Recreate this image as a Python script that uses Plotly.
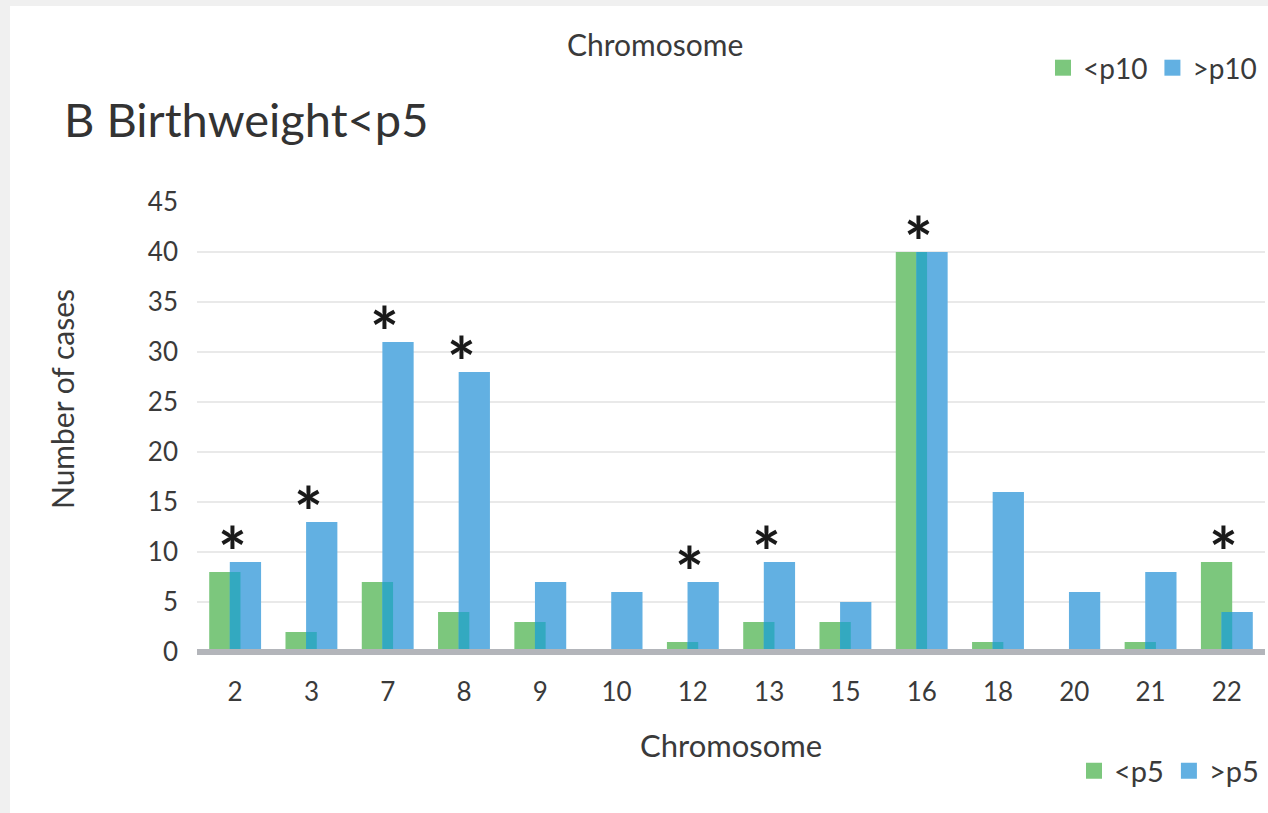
import plotly.graph_objects as go

# Chromosomes with abnormalities and case counts split by birthweight percentile
chromosomes = ["2", "3", "7", "8", "9", "10", "12", "13", "15", "16", "18", "20", "21", "22"]
below_p5 = [8, 2, 7, 4, 3, 0, 1, 3, 3, 40, 1, 0, 1, 9]
above_p5 = [9, 13, 31, 28, 7, 6, 7, 9, 5, 40, 16, 6, 8, 4]
significant = ["2", "3", "7", "8", "12", "13", "16", "22"]

y_ticks = [0, 5, 10, 15, 20, 25, 30, 35, 40, 45]

GREEN = "#7CC77D"
BLUE = "#62B0E2"
TEAL = "#33A9C0"
FONT = "Lato"
TEXT = "#3a3a3a"

overlap = [min(a, b) for a, b in zip(below_p5, above_p5)]

fig = go.Figure()
fig.add_trace(go.Bar(x=chromosomes, y=below_p5, name="<p5", marker_color=GREEN,
                     marker_line_width=0, offset=-0.34, width=0.41, showlegend=False))
fig.add_trace(go.Bar(x=chromosomes, y=above_p5, name=">p5", marker_color=BLUE,
                     marker_line_width=0, offset=-0.07, width=0.41, showlegend=False))
# shared strip where the two bars overlap
fig.add_trace(go.Bar(x=chromosomes, y=overlap, showlegend=False, marker_color=TEAL,
                     marker_line_width=0, offset=-0.07, width=0.14, hoverinfo="skip"))


def key_entry(name, color, legend_id):
    """Legend-only entry with a large square swatch."""
    return go.Scatter(x=[chromosomes[0]], y=[None], mode="markers", name=name,
                      marker=dict(symbol="square", size=20, color=color),
                      legend=legend_id, hoverinfo="skip")


fig.add_trace(key_entry("<p5", GREEN, "legend"))
fig.add_trace(key_entry(">p5", BLUE, "legend"))
fig.add_trace(key_entry("<p10", GREEN, "legend2"))
fig.add_trace(key_entry(">p10", BLUE, "legend2"))

annotations = []
for i, (c, a, b) in enumerate(zip(chromosomes, below_p5, above_p5)):
    if c in significant:
        annotations.append(dict(x=i, y=max(a, b), xref="x", yref="y", text="*",
                                showarrow=False, yanchor="bottom", xshift=-3, yshift=-32,
                                font=dict(family=FONT, size=68, color="#1a1a1a",
                                          weight="bold")))

annotations += [
    dict(text="B Birthweight<p5", xref="paper", yref="paper", x=(62 - 197) / 1068,
         y=(656 - 119) / 454, xanchor="left", yanchor="middle", showarrow=False,
         font=dict(family=FONT, size=47, color="#333333")),
    dict(text="Chromosome", xref="paper", yref="paper", x=(655 - 197) / 1068, y=(656 - 44) / 454,
         xanchor="center", yanchor="middle", showarrow=False,
         font=dict(family=FONT, size=30, color=TEXT)),
    dict(text="Number of cases", xref="paper", yref="paper", x=(62 - 197) / 1068,
         y=(656 - 399) / 454, xanchor="center", yanchor="middle", textangle=-90,
         showarrow=False, font=dict(family=FONT, size=30, color=TEXT)),
    dict(text="Chromosome", xref="paper", yref="paper", x=(731 - 197) / 1068,
         y=(656 - 745) / 454, xanchor="center", yanchor="middle", showarrow=False,
         font=dict(family=FONT, size=31, color=TEXT)),
]

shapes = [
    # white panel over the light grey page
    dict(type="rect", xref="paper", yref="paper", x0=(10 - 197) / 1068, x1=1.2,
         y0=-0.6, y1=(656 - 6) / 454, fillcolor="white", line_width=0, layer="below"),
    # baseline
    dict(type="line", xref="paper", yref="y", x0=0, x1=1, y0=0, y1=0,
         line=dict(color="#B3B5BA", width=6), layer="above"),
]

fig.update_layout(
    width=1268, height=813,
    margin=dict(l=197, r=3, t=202, b=157),
    paper_bgcolor="#F0F0F0", plot_bgcolor="rgba(0,0,0,0)",
    barmode="overlay",
    font=dict(family=FONT, color=TEXT),
    showlegend=True,
    legend=dict(orientation="h", xanchor="right", x=(1264 - 197) / 1068,
                yanchor="middle", y=(656 - 771) / 454, bgcolor="rgba(0,0,0,0)",
                font=dict(family=FONT, size=29, color=TEXT), traceorder="normal",
                itemsizing="trace", itemwidth=30),
    legend2=dict(orientation="h", xanchor="right", x=(1262 - 197) / 1068,
                 yanchor="middle", y=(656 - 68) / 454, bgcolor="rgba(0,0,0,0)",
                 font=dict(family=FONT, size=28, color=TEXT), traceorder="normal",
                 itemsizing="trace", itemwidth=30),
    annotations=annotations,
    shapes=shapes,
    xaxis=dict(type="category", categoryorder="array", categoryarray=chromosomes,
               range=[-0.5, len(chromosomes) - 0.5], showgrid=False, zeroline=False,
               showline=False, ticks="", tickfont=dict(family=FONT, size=26, color=TEXT),
               ticklabelstandoff=18),
    yaxis=dict(range=[-0.4, 45], tickvals=y_ticks, showgrid=True,
               gridcolor="rgba(215,215,215,0.55)", gridwidth=2, zeroline=False,
               showline=False, ticks="", layer="above traces",
               tickfont=dict(family=FONT, size=26, color=TEXT), ticklabelstandoff=18),
)

fig.write_html("out.html")
